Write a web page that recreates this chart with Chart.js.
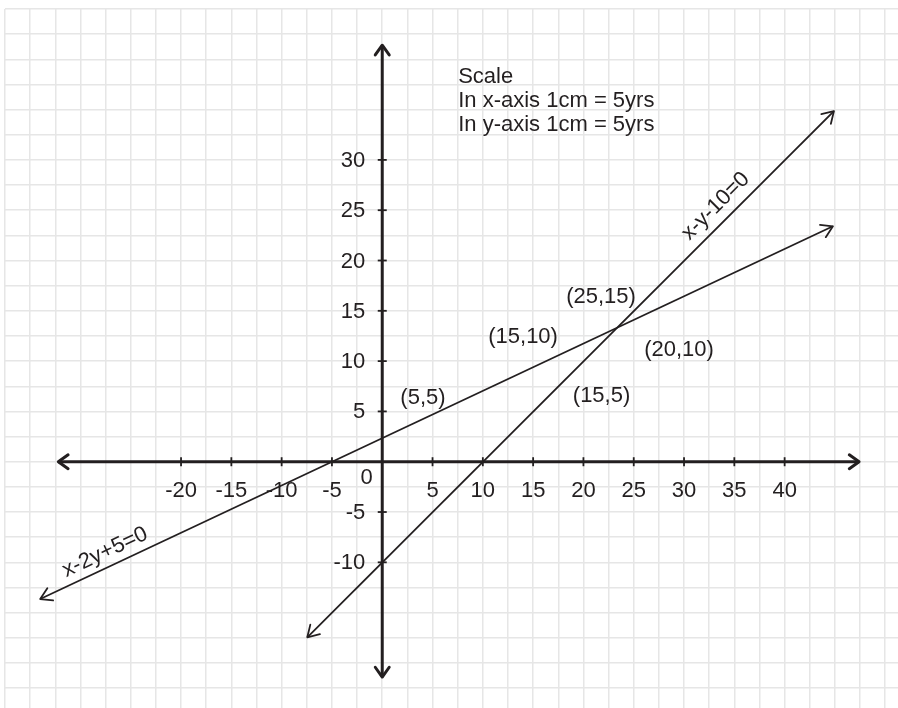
<!DOCTYPE html>
<html>
<head>
<meta charset="utf-8">
<script src="https://cdn.jsdelivr.net/npm/chart.js@4.4.1/dist/chart.umd.min.js"></script>
<style>
  html, body { margin: 0; padding: 0; background: #ffffff; }
  #wrap { width: 898px; height: 708px; }
</style>
</head>
<body>
<div id="wrap"><canvas id="graph" width="898" height="708"></canvas></div>
<script>
// line x-2y+5=0 (ends)
const lineAx = [-34.0, 44.8];
const lineAy = [-13.65, 23.4];
// line x-y-10=0
const lineBx = [-7.45, 44.9];
const lineBy = [-17.45, 34.85];
// axis ends (arrow tips)
const axisXEnds = [-32.2, 47.4];
const axisYEnds = [-21.4, 41.4];
// tick labels
const xTicks = [-20, -15, -10, -5, 5, 10, 15, 20, 25, 30, 35, 40];
const yTicks = [-10, -5, 5, 10, 15, 20, 25, 30];
// texts
const pointLabels = ['(5,5)', '(15,10)', '(25,15)', '(20,10)', '(15,5)'];
const scaleNote = ['Scale', 'In x-axis 1cm = 5yrs', 'In y-axis 1cm = 5yrs'];
const lineNames = ['x-2y+5=0', 'x-y-10=0'];

const ink = '#231f20';
const font = '22px "Liberation Sans", Arial, sans-serif';

function toPoints(xs, ys) {
    return xs.map((v, i) => ({ x: v, y: ys[i] }));
}

function drawArrow(ctx, fromX, fromY, tipX, tipY, len, half) {
    const ang = Math.atan2(tipY - fromY, tipX - fromX);
    ctx.beginPath();
    ctx.moveTo(tipX + len * Math.cos(ang + Math.PI - half), tipY + len * Math.sin(ang + Math.PI - half));
    ctx.lineTo(tipX, tipY);
    ctx.lineTo(tipX + len * Math.cos(ang + Math.PI + half), tipY + len * Math.sin(ang + Math.PI + half));
    ctx.stroke();
}

// axes ticks, arrowheads and all the texts
const graphPaper = {
    id: 'graphPaper',
    afterDatasetsDraw(chart) {
        const ctx = chart.ctx;
        const sx = chart.scales.x, sy = chart.scales.y;
        const px = v => sx.getPixelForValue(v);
        const py = v => sy.getPixelForValue(v);
        ctx.save();
        ctx.strokeStyle = ink;
        ctx.lineCap = 'round';
        ctx.lineJoin = 'round';

        chart.data.datasets.forEach(ds => {
            const a = ds.data[0], b = ds.data[ds.data.length - 1];
            ctx.lineWidth = ds.borderWidth;
            drawArrow(ctx, px(a.x), py(a.y), px(b.x), py(b.y), ds.arrowLen, ds.arrowHalf);
            drawArrow(ctx, px(b.x), py(b.y), px(a.x), py(a.y), ds.arrowLen, ds.arrowHalf);
        });

        // tick marks
        ctx.lineWidth = 1.8;
        ctx.lineCap = 'butt';
        xTicks.forEach(v => {
            ctx.beginPath();
            ctx.moveTo(px(v), py(0) - 4.5);
            ctx.lineTo(px(v), py(0) + 4.5);
            ctx.stroke();
        });
        yTicks.forEach(v => {
            ctx.beginPath();
            ctx.moveTo(px(0) - 4.5, py(v));
            ctx.lineTo(px(0) + 4.5, py(v));
            ctx.stroke();
        });

        // tick labels
        ctx.fillStyle = ink;
        ctx.font = font;
        ctx.textAlign = 'center';
        ctx.textBaseline = 'alphabetic';
        xTicks.forEach(v => ctx.fillText(String(v), px(v), py(0) + 35));
        ctx.fillText('0', px(-1.55), py(-2.2));
        ctx.textAlign = 'right';
        ctx.textBaseline = 'middle';
        yTicks.forEach(v => ctx.fillText(String(v), px(0) - 17, py(v) + 1));

        // point labels
        const labelAt = [[4.05, 6.3], [14.0, 12.4], [21.75, 16.4], [29.5, 11.1], [21.8, 6.5]];
        ctx.textAlign = 'center';
        pointLabels.forEach((t, i) => ctx.fillText(t, px(labelAt[i][0]), py(labelAt[i][1])));

        // scale note
        ctx.textAlign = 'left';
        ctx.textBaseline = 'alphabetic';
        scaleNote.forEach((t, i) => ctx.fillText(t, px(7.55), py(37.6) + i * 24));

        // equation labels along the lines
        const nameAt = [[-27.55, -9.0], [33.15, 25.4]];
        chart.data.datasets.slice(2).forEach((ds, i) => {
            const a = ds.data[0], b = ds.data[1];
            const ang = Math.atan2(py(b.y) - py(a.y), px(b.x) - px(a.x));
            ctx.save();
            ctx.translate(px(nameAt[i][0]), py(nameAt[i][1]));
            ctx.rotate(ang);
            ctx.textAlign = 'center';
            ctx.textBaseline = 'middle';
            ctx.fillText(lineNames[i], 0, 0);
            ctx.restore();
        });
        ctx.restore();
    }
};

const ctx = document.getElementById('graph').getContext('2d');
new Chart(ctx, {
    type: 'scatter',
    data: {
        datasets: [
            { data: toPoints(axisXEnds, [0, 0]), borderColor: ink, borderWidth: 3, arrowLen: 12, arrowHalf: 0.62 },
            { data: toPoints([0, 0], axisYEnds), borderColor: ink, borderWidth: 3, arrowLen: 12, arrowHalf: 0.62 },
            { data: toPoints(lineAx, lineAy), borderColor: ink, borderWidth: 1.8, arrowLen: 13, arrowHalf: 0.55 },
            { data: toPoints(lineBx, lineBy), borderColor: ink, borderWidth: 1.8, arrowLen: 13, arrowHalf: 0.55 }
        ].map(ds => Object.assign(ds, { showLine: true, pointRadius: 0, fill: false, tension: 0 }))
    },
    options: {
        responsive: false,
        animation: false,
        devicePixelRatio: 1,
        events: [],
        layout: { padding: { left: 5, top: 9, right: 0, bottom: 0 } },
        plugins: { legend: { display: false }, tooltip: { enabled: false } },
        scales: {
            x: {
                type: 'linear',
                min: -37.5,
                max: 51.27,
                ticks: { display: false, stepSize: 2.5, includeBounds: false },
                grid: { color: '#e6e6e6', lineWidth: 1.5, drawTicks: false },
                border: { display: false }
            },
            y: {
                type: 'linear',
                min: -24.48,
                max: 45,
                ticks: { display: false, stepSize: 2.5, includeBounds: false },
                grid: { color: '#e6e6e6', lineWidth: 1.5, drawTicks: false },
                border: { display: false }
            }
        }
    },
    plugins: [graphPaper]
});
</script>
</body>
</html>
